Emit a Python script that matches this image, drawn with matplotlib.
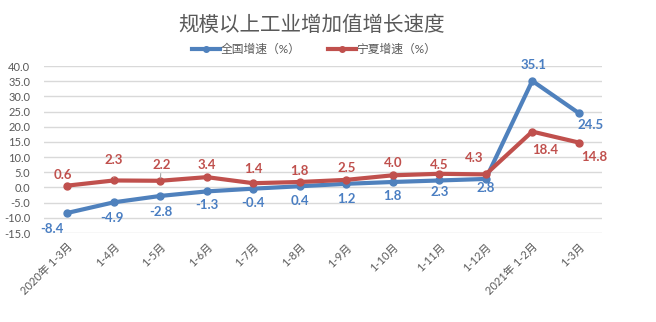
import matplotlib
matplotlib.use("Agg")
import matplotlib.pyplot as plt
from matplotlib.lines import Line2D

plt.rcParams['font.family'] = ['Lato', 'Noto Sans CJK SC', 'DejaVu Sans']

categories = ["2020年 1-3月", "1-4月", "1-5月", "1-6月", "1-7月", "1-8月", "1-9月",
              "1-10月", "1-11月", "1-12月", "2021年 1-2月", "1-3月"]
national = [-8.4, -4.9, -2.8, -1.3, -0.4, 0.4, 1.2, 1.8, 2.3, 2.8, 35.1, 24.5]
ningxia = [0.6, 2.3, 2.2, 3.4, 1.4, 1.8, 2.5, 4.0, 4.5, 4.3, 18.4, 14.8]
series_names = ["全国增速（%）", "宁夏增速（%）"]
title = "规模以上工业增加值增长速度"
yticks = [-15, -10, -5, 0, 5, 10, 15, 20, 25, 30, 35, 40]

blue = "#4F81BD"
red = "#C0504D"
blue_lbl = "#4A7EC2"
red_lbl = "#C0504D"
gray = "#595959"

# label offsets in pixels (style)
blue_off = [(-15, -16), (-2, -16), (1, -16), (0, -14), (0, -14), (0, -15), (0, -15),
            (0, -14), (0, -12), (0, -9), (1, 16), (12, -12)]
red_off = [(-4, 11), (0, 20), (1, 16), (0, 12), (0, 14), (0, 11), (0, 12),
           (0, 12), (0, 9), (-12, 16), (13, -18), (15, -14)]
leader = [False, True, True, False, False, False, False, False, False, False, False, False]

fig = plt.figure(figsize=(6.56, 3.22), dpi=100)
ax = fig.add_axes([44/656, 1-233/322, (602-44)/656, (233-66)/322])

x = list(range(len(categories)))
ax.plot(x, national, color=blue, lw=3, marker='o', ms=5, zorder=3, solid_capstyle='round')
ax.plot(x, ningxia, color=red, lw=3, marker='o', ms=5, zorder=3, solid_capstyle='round')

ax.set_xlim(-0.5, len(categories) - 0.5)
ax.set_ylim(-15, 40)
ax.set_yticks(yticks)
ax.set_yticklabels([f"{v:.1f}" for v in yticks], fontsize=8, color=gray)
ax.grid(axis='y', color='#D9D9D9', lw=1)
ax.set_axisbelow(True)
for s in ax.spines.values():
    s.set_visible(False)
ax.tick_params(axis='both', length=0)
ax.tick_params(axis='y', pad=10)
ax.set_xticks(x)
ax.set_xticklabels(categories, rotation=45, ha='right', va='top', rotation_mode='anchor',
                   fontsize=8, color=gray)
ax.tick_params(axis='x', pad=6)

for i, v in enumerate(national):
    ax.annotate(f"{v:.1f}", (x[i], v), xytext=blue_off[i], textcoords='offset pixels',
                ha='center', va='center', fontsize=9.5, color=blue_lbl, fontweight='bold')
for i, v in enumerate(ningxia):
    kw = {}
    if leader[i]:
        kw['arrowprops'] = dict(arrowstyle='-', color='#A6A6A6', lw=0.8, shrinkA=6, shrinkB=2)
    ax.annotate(f"{v:.1f}", (x[i], v), xytext=red_off[i], textcoords='offset pixels',
                ha='center', va='center', fontsize=9.5, color=red_lbl, fontweight='bold', **kw)

fig.text(312/656, 1-25/322, title, ha='center', va='center', fontsize=14.8, color=gray)

handles = [Line2D([0], [0], color=blue, lw=3, marker='o', ms=4),
           Line2D([0], [0], color=red, lw=3, marker='o', ms=4)]
fig.legend(handles, series_names, loc='center', bbox_to_anchor=(314/656, 1-49/322),
           ncol=2, frameon=False, fontsize=8.5, handlelength=2.4, handletextpad=0.05,
           columnspacing=2.3, labelcolor=gray, borderpad=0, borderaxespad=0)

fig.savefig("out.png", dpi=100)
